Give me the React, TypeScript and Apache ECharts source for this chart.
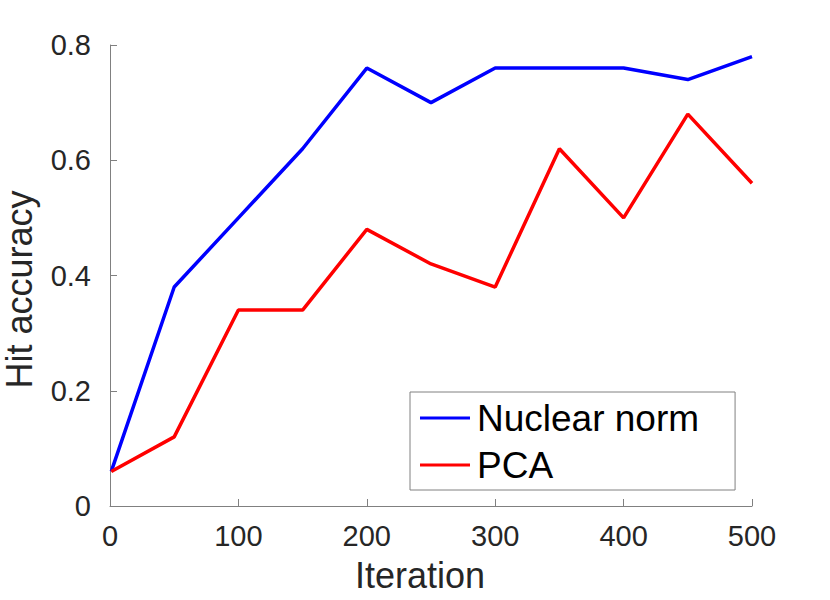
import React, { useEffect, useRef } from "react";
import * as echarts from "echarts";

const iterations = [1, 50, 100, 150, 200, 250, 300, 350, 400, 450, 500];
const nuclearNorm = [0.06, 0.38, 0.5, 0.62, 0.76, 0.7, 0.76, 0.76, 0.76, 0.74, 0.78];
const pca = [0.06, 0.12, 0.34, 0.34, 0.48, 0.42, 0.38, 0.62, 0.5, 0.68, 0.56];
const seriesNames = ["Nuclear norm", "PCA"];
const xLabel = "Iteration";
const yLabel = "Hit accuracy";

export default function App() {
  const ref = useRef<HTMLDivElement>(null);
  useEffect(() => {
    if (!ref.current) return;
    const chart = echarts.init(ref.current, undefined, { renderer: "svg" });
    const axisColor = "#808080";
    const labelColor = "#262626";
    chart.setOption({
      animation: false,
      backgroundColor: "#ffffff",
      textStyle: { fontFamily: "Liberation Sans, Arial, sans-serif" },
      grid: {
        left: 110,
        right: 78,
        top: 45,
        bottom: 94,
        containLabel: false,
        outerBoundsMode: "none",
      },
      xAxis: {
        type: "value",
        min: 0,
        max: 500,
        interval: 100,
        name: xLabel,
        nameLocation: "middle",
        nameGap: 51,
        nameTextStyle: { fontSize: 36, color: labelColor, padding: [0, 22, 0, 0] },
        axisLine: { show: true, lineStyle: { color: axisColor, width: 1 } },
        axisTick: { show: true, inside: true, length: 7, lineStyle: { color: axisColor } },
        axisLabel: { fontSize: 29, color: labelColor, margin: 15 },
        splitLine: { show: false },
      },
      yAxis: {
        type: "value",
        min: 0,
        max: 0.8,
        interval: 0.2,
        name: yLabel,
        nameLocation: "middle",
        nameGap: 73,
        nameTextStyle: { fontSize: 36, color: labelColor, padding: [0, 28, 0, 0] },
        axisLine: { show: true, lineStyle: { color: axisColor, width: 1 } },
        axisTick: { show: true, inside: true, length: 7, lineStyle: { color: axisColor } },
        axisLabel: { fontSize: 29, color: labelColor, margin: 19 },
        splitLine: { show: false },
      },
      legend: {
        orient: "vertical",
        left: 410,
        top: 392,
        padding: [6, 36, 5, 10],
        backgroundColor: "#ffffff",
        borderColor: axisColor,
        borderWidth: 1,
        borderRadius: 0,
        itemWidth: 50,
        itemHeight: 3,
        itemGap: 7,
        icon: "rect",
        textStyle: { fontSize: 37, color: "#000000", padding: [0, 0, 0, 2], lineHeight: 40 },
        data: seriesNames,
      },
      series: [
        {
          name: seriesNames[0],
          type: "line",
          data: iterations.map((x, i) => [x, nuclearNorm[i]]),
          showSymbol: false,
          symbol: "none",
          lineStyle: { color: "#0000ff", width: 3.5 },
          itemStyle: { color: "#0000ff" },
        },
        {
          name: seriesNames[1],
          type: "line",
          data: iterations.map((x, i) => [x, pca[i]]),
          showSymbol: false,
          symbol: "none",
          lineStyle: { color: "#ff0000", width: 3.5 },
          itemStyle: { color: "#ff0000" },
        },
      ],
    });
    return () => chart.dispose();
  }, []);
  return (
    <div
      ref={ref}
      style={{ position: "absolute", left: 0, top: 0, width: 830, height: 600 }}
    />
  );
}
